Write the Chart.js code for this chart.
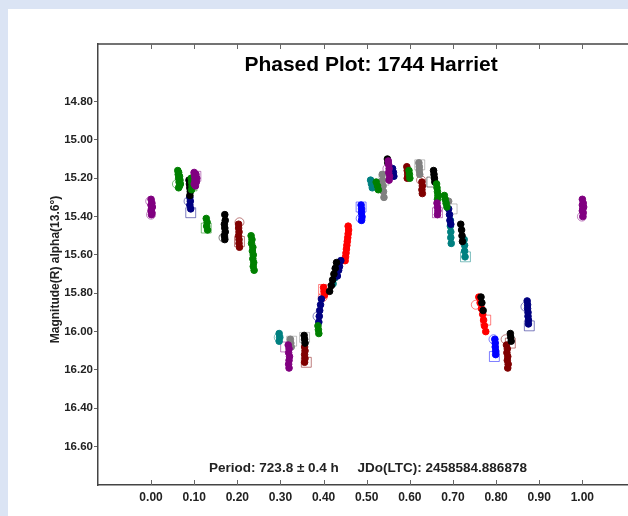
<!DOCTYPE html>
<html lang="en">
<head>
<meta charset="UTF-8">
<title>Phased Plot: 1744 Harriet</title>
<script src="https://cdn.jsdelivr.net/npm/chart.js"></script>
<style>
    html, body { margin: 0; padding: 0; width: 628px; height: 516px; overflow: hidden; background: #dbe4f4; }
    #panel { position: absolute; left: 8px; top: 9px; width: 660px; height: 520px; background: #fff; }
    #chart { position: absolute; left: 0; top: 0; }
</style>
</head>
<body>
<div id="panel"><canvas id="chart" width="640" height="507"></canvas></div>
<script>
const xTicks = [0.0, 0.1, 0.2, 0.3, 0.4, 0.5, 0.6, 0.7, 0.8, 0.9, 1.0];
const yTicks = [14.8, 15.0, 15.2, 15.4, 15.6, 15.8, 16.0, 16.2, 16.4, 16.6];

const titleText = 'Phased Plot: 1744 Harriet';
const periodText = 'Period: 723.8 \u00b1 0.4 h     JDo(LTC): 2458584.886878';
const yTitle = 'Magnitude(R) alpha(13.6\u00b0)';

// [phase, magnitude]
const purple = [
    [0.000,15.31],[0.002,15.33],[0.000,15.34],[0.003,15.35],[0.001,15.36],[0.000,15.37],[0.002,15.38],[0.001,15.39],
    [1.000,15.31],[1.002,15.33],[1.000,15.34],[1.003,15.35],[1.001,15.36],[1.000,15.37],[1.002,15.38],[1.001,15.40],
    [0.100,15.17],[0.104,15.18],[0.101,15.19],[0.106,15.20],[0.102,15.21],[0.105,15.22],[0.100,15.23],[0.103,15.24],
    [0.318,16.07],[0.320,16.09],[0.319,16.11],[0.321,16.13],[0.320,16.15],[0.319,16.17],[0.320,16.19],
    [0.550,15.11],[0.551,15.13],[0.552,15.15],[0.551,15.17],[0.553,15.19],[0.552,15.21],
    [0.663,15.33],[0.664,15.35],[0.665,15.37],[0.664,15.39]
];
const green = [
    [0.062,15.16],[0.064,15.17],[0.063,15.18],[0.066,15.19],[0.064,15.20],[0.067,15.21],[0.065,15.22],[0.068,15.23],[0.066,15.24],[0.064,15.25],
    [0.093,15.20],[0.094,15.22],[0.095,15.24],[0.094,15.26],
    [0.128,15.41],[0.130,15.43],[0.129,15.45],[0.131,15.47],
    [0.232,15.50],[0.234,15.52],[0.233,15.54],[0.236,15.56],[0.235,15.58],[0.237,15.60],[0.236,15.62],[0.238,15.64],[0.237,15.66],[0.239,15.68],
    [0.387,15.97],[0.388,15.99],[0.389,16.01],
    [0.522,15.22],[0.525,15.24],[0.527,15.26],
    [0.598,15.16],[0.599,15.18],[0.600,15.20],
    [0.662,15.23],[0.663,15.25],[0.664,15.27],[0.665,15.29],[0.664,15.31],
    [0.680,15.29],[0.682,15.31],[0.684,15.33],[0.686,15.35]
];
const black = [
    [0.088,15.21],[0.089,15.23],[0.090,15.25],[0.091,15.27],[0.090,15.29],
    [0.171,15.39],[0.172,15.42],[0.170,15.44],[0.171,15.46],[0.172,15.48],[0.170,15.50],[0.171,15.52],
    [0.355,16.02],[0.356,16.04],[0.357,16.06],
    [0.414,15.79],[0.418,15.76],[0.421,15.73],[0.424,15.70],[0.427,15.67],[0.430,15.64],
    [0.548,15.10],[0.549,15.12],
    [0.655,15.16],[0.656,15.18],[0.657,15.20],[0.658,15.22],
    [0.718,15.44],[0.720,15.47],[0.721,15.50],[0.722,15.53],
    [0.765,15.82],[0.767,15.85],[0.770,15.89],
    [0.833,16.01],[0.834,16.03],[0.835,16.05]
];
const navy = [
    [0.090,15.30],[0.091,15.32],[0.090,15.34],[0.092,15.36],
    [0.395,15.83],[0.393,15.86],[0.391,15.89],[0.390,15.92],[0.389,15.95],
    [0.432,15.71],[0.435,15.68],[0.437,15.66],[0.440,15.63],
    [0.560,15.15],[0.562,15.17],[0.563,15.19],
    [0.690,15.36],[0.692,15.39],[0.693,15.42],[0.695,15.44],
    [0.872,15.84],[0.873,15.86],[0.873,15.88],[0.874,15.90],[0.874,15.92],[0.875,15.94],[0.875,15.96]
];
const maroon = [
    [0.203,15.44],[0.203,15.46],[0.204,15.48],[0.203,15.50],[0.204,15.52],[0.204,15.54],[0.205,15.56],
    [0.356,16.08],[0.357,16.10],[0.356,16.12],[0.357,16.14],[0.356,16.16],
    [0.593,15.14],[0.594,15.16],[0.595,15.18],[0.594,15.20],
    [0.628,15.22],[0.629,15.24],[0.628,15.26],[0.629,15.28],
    [0.824,16.07],[0.826,16.09],[0.825,16.11],[0.827,16.13],[0.826,16.15],[0.828,16.17],[0.827,16.19]
];
const red = [
    [0.400,15.77],[0.401,15.79],[0.402,15.81],
    [0.457,15.45],[0.458,15.47],[0.457,15.49],[0.456,15.51],[0.455,15.53],[0.454,15.55],[0.453,15.57],[0.452,15.59],[0.451,15.61],[0.450,15.63],
    [0.760,15.82],[0.763,15.85],[0.766,15.88],[0.769,15.91],[0.771,15.94],[0.773,15.97],[0.776,16.00]
];
const blue = [
    [0.487,15.34],[0.488,15.36],[0.488,15.38],[0.489,15.40],[0.488,15.42],
    [0.797,16.04],[0.798,16.06],[0.798,16.08],[0.799,16.10],[0.799,16.12]
];
const gray = [
    [0.323,16.04],[0.324,16.06],[0.325,16.08],
    [0.426,15.71],[0.430,15.69],
    [0.536,15.18],[0.537,15.21],[0.538,15.24],[0.539,15.27],[0.540,15.30],
    [0.621,15.12],[0.622,15.14],[0.622,15.16],[0.623,15.18],
    [0.690,15.32]
];
const teal = [
    [0.297,16.01],[0.298,16.03],[0.297,16.05],
    [0.422,15.75],[0.426,15.72],
    [0.509,15.21],[0.511,15.23],[0.513,15.25],
    [0.694,15.42],[0.694,15.45],[0.695,15.48],[0.695,15.51],[0.696,15.54],
    [0.726,15.52],[0.727,15.55],[0.727,15.58],[0.728,15.61]
];

// open squares / open circles
const purpleBox = [[0.104,15.19],[0.312,16.08],[0.664,15.38]];
const purpleRing = [[-0.002,15.32],[0.000,15.39],[0.999,15.40],[0.548,15.15]];
const greenBox = [[0.095,15.24],[0.128,15.46]];
const greenRing = [[0.060,15.23]];
const blackBox = [[0.651,15.22]];
const blackRing = [[0.168,15.51]];
const navyBox = [[0.092,15.38],[0.877,15.97]];
const navyRing = [[0.087,15.32],[0.868,15.87],[0.386,15.92]];
const maroonBox = [[0.205,15.53],[0.360,16.16],[0.833,16.06]];
const maroonRing = [[0.205,15.43],[0.822,16.04],[0.626,15.21]];
const redBox = [[0.776,15.94],[0.400,15.78]];
const redRing = [[0.753,15.86],[0.398,15.82]];
const blueBox = [[0.796,16.13],[0.487,15.35]];
const blueRing = [[0.794,16.04],[0.486,15.41]];
const grayBox = [[0.356,16.03],[0.540,15.21],[0.623,15.13],[0.698,15.36],[0.326,16.05]];
const grayRing = [];
const tealBox = [[0.729,15.61]];
const tealRing = [[0.296,16.03]];

const groups = [
    ['#800080', purple, purpleBox, purpleRing],
    ['#008000', green, greenBox, greenRing],
    ['#000000', black, blackBox, blackRing],
    ['#000080', navy, navyBox, navyRing],
    ['#800000', maroon, maroonBox, maroonRing],
    ['#ff0000', red, redBox, redRing],
    ['#0000ff', blue, blueBox, blueRing],
    ['#808080', gray, grayBox, grayRing],
    ['#008080', teal, tealBox, tealRing]
];

const toXY = pts => pts.map(p => ({ x: p[0], y: p[1] }));
const datasets = [];
groups.forEach(g => {
    datasets.push({ data: toXY(g[1]), pointStyle: 'circle', pointRadius: 3.3,
        backgroundColor: g[0], borderColor: g[0], borderWidth: 1 });
});
groups.forEach(g => {
    datasets.push({ data: toXY(g[2]), pointStyle: 'rect', pointRadius: 7,
        backgroundColor: 'rgba(0,0,0,0)', borderColor: g[0] + '80', borderWidth: 1 });
    datasets.push({ data: toXY(g[3]), pointStyle: 'circle', pointRadius: 4.5,
        backgroundColor: 'rgba(0,0,0,0)', borderColor: g[0] + '80', borderWidth: 1 });
});

const frame = {
    id: 'frame',
    afterDraw(chart) {
        const ctx = chart.ctx;
        const a = chart.chartArea;
        const xs = chart.scales.x;
        ctx.save();
        ctx.strokeStyle = '#444';
        ctx.lineWidth = 1.5;
        ctx.beginPath();
        ctx.moveTo(a.left, a.top);
        ctx.lineTo(a.right, a.top);
        ctx.stroke();
        ctx.strokeStyle = '#666';
        ctx.lineWidth = 1;
        ctx.beginPath();
        xTicks.forEach(v => {
            const px = Math.round(xs.getPixelForValue(v)) + 0.5;
            ctx.moveTo(px, a.bottom);
            ctx.lineTo(px, a.bottom - 5);
            ctx.moveTo(px, a.top);
            ctx.lineTo(px, a.top + 5);
        });
        ctx.stroke();

        ctx.fillStyle = '#000';
        ctx.textAlign = 'center';
        ctx.textBaseline = 'middle';
        ctx.font = 'bold 21px "Liberation Sans", Arial, sans-serif';
        ctx.fillText(titleText, xs.getPixelForValue(0.51), a.top + 21);
        ctx.fillStyle = '#222';
        ctx.font = 'bold 13.5px "Liberation Sans", Arial, sans-serif';
        ctx.fillText(periodText, (a.left + a.right) / 2, a.bottom - 17);

        ctx.font = 'bold 12px "Liberation Sans", Arial, sans-serif';
        ctx.translate(48, (a.top + a.bottom) / 2 + 5);
        ctx.rotate(-Math.PI / 2);
        ctx.fillText(yTitle, 0, 0);
        ctx.restore();
    }
};

new Chart(document.getElementById('chart'), {
    type: 'scatter',
    data: { datasets: datasets },
    options: {
        responsive: false,
        animation: false,
        events: [],
        layout: { padding: { top: 35, right: 10, left: 0, bottom: 0 } },
        plugins: { legend: { display: false }, tooltip: { enabled: false } },
        scales: {
            x: {
                type: 'linear',
                min: -0.123,
                max: 1.129,
                afterFit: s => { s.height = 31; },
                afterBuildTicks: s => { s.ticks = xTicks.map(v => ({ value: v })); },
                grid: { drawOnChartArea: false, drawTicks: false },
                border: { display: true, color: '#444', width: 1.5 },
                ticks: {
                    padding: 5,
                    color: '#222',
                    font: { family: '"Liberation Sans", Arial, sans-serif', size: 12, weight: 'bold' },
                    callback: v => v.toFixed(2)
                }
            },
            y: {
                type: 'linear',
                reverse: true,
                min: 14.5,
                max: 16.8,
                afterFit: s => { s.width = 90; },
                afterBuildTicks: s => { s.ticks = yTicks.map(v => ({ value: v })); },
                grid: { drawOnChartArea: false, drawTicks: true, tickLength: 4, color: '#666' },
                border: { display: true, color: '#444', width: 1.5 },
                ticks: {
                    padding: 1,
                    color: '#222',
                    font: { family: '"Liberation Sans", Arial, sans-serif', size: 11.5, weight: 'bold' },
                    callback: v => v.toFixed(2)
                }
            }
        }
    },
    plugins: [frame]
});
</script>
</body>
</html>
